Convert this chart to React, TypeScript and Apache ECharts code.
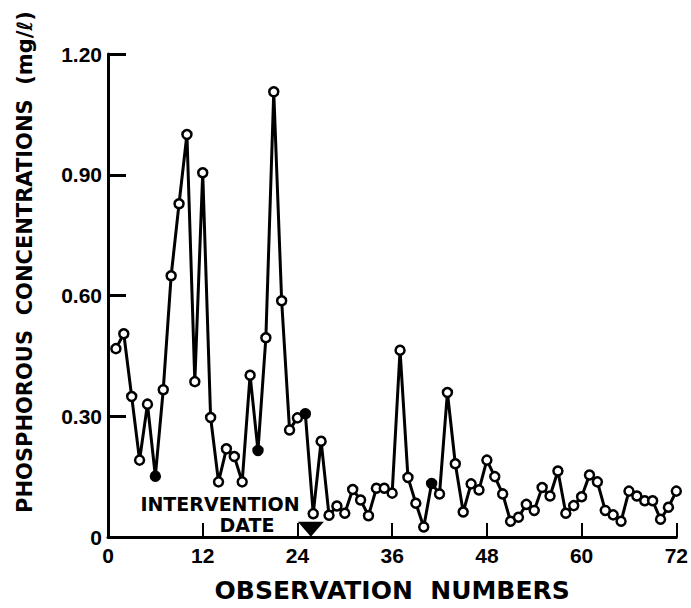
import React, { useEffect, useRef } from "react";
import * as echarts from "echarts";

const observations = [
  1, 2, 3, 4, 5, 6, 7, 8, 9, 10, 11, 12, 13, 14, 15, 16, 17, 18, 19, 20, 21, 22, 23, 24,
  25, 26, 27, 28, 29, 30, 31, 32, 33, 34, 35, 36, 37, 38, 39, 40, 41, 42, 43, 44, 45, 46, 47, 48,
  49, 50, 51, 52, 53, 54, 55, 56, 57, 58, 59, 60, 61, 62, 63, 64, 65, 66, 67, 68, 69, 70, 71, 72,
];
const phosphorus = [
  0.468, 0.505, 0.349, 0.191, 0.33, 0.151, 0.366, 0.649, 0.828, 1.0, 0.386, 0.905,
  0.297, 0.137, 0.219, 0.2, 0.137, 0.402, 0.215, 0.495, 1.106, 0.587, 0.266, 0.296,
  0.306, 0.058, 0.238, 0.054, 0.077, 0.059, 0.118, 0.092, 0.053, 0.121, 0.121, 0.109,
  0.464, 0.148, 0.084, 0.025, 0.133, 0.107, 0.359, 0.182, 0.062, 0.132, 0.117, 0.191,
  0.15, 0.107, 0.039, 0.049, 0.081, 0.066, 0.123, 0.102, 0.164, 0.059, 0.078, 0.1,
  0.154, 0.137, 0.066, 0.055, 0.039, 0.114, 0.102, 0.09, 0.09, 0.044, 0.074, 0.114,
];
const filledObservations = [6, 19, 25, 41];
const interventionMarker = [[25.7, 0.019]];
const xTicks = [0, 12, 24, 36, 48, 60, 72];
const yTicks = [0, 0.3, 0.6, 0.9, 1.2];

const FONT = "'Liberation Sans', Arial, sans-serif";
const WIDE = "'DejaVu Sans', sans-serif";

export default function App() {
  const ref = useRef<HTMLDivElement>(null);
  useEffect(() => {
    if (!ref.current) return;
    const chart = echarts.init(ref.current, null, { renderer: "svg" });
    const data = observations.map((o, i) => ({
      value: [o, phosphorus[i]],
      itemStyle: filledObservations.includes(o)
        ? { color: "#000", borderColor: "#000" }
        : undefined,
    }));
    chart.setOption({
      animation: false,
      backgroundColor: "#fff",
      grid: { left: 108, right: 8, top: 54, bottom: 67 },
      xAxis: {
        type: "value",
        min: xTicks[0],
        max: xTicks[xTicks.length - 1],
        interval: 12,
        name: "OBSERVATION  NUMBERS",
        nameLocation: "middle",
        nameGap: 41,
        nameTextStyle: { fontFamily: WIDE, fontSize: 25, fontWeight: "bold", color: "#000" },
        axisLine: { lineStyle: { color: "#000", width: 3 } },
        axisTick: { inside: true, length: 14, lineStyle: { color: "#000", width: 2 } },
        axisLabel: { fontFamily: FONT, fontSize: 21, fontWeight: "bold", color: "#000", margin: 8 },
        splitLine: { show: false },
      },
      yAxis: {
        type: "value",
        min: yTicks[0],
        max: yTicks[yTicks.length - 1],
        interval: 0.3,
        axisLine: { show: true, lineStyle: { color: "#000", width: 3 } },
        axisTick: { show: true, inside: true, length: 18, lineStyle: { color: "#000", width: 3 } },
        axisLabel: {
          fontFamily: FONT,
          fontSize: 21,
          fontWeight: "bold",
          color: "#000",
          margin: 6,
          formatter: (v: number) => (v === 0 ? "0" : v.toFixed(2)),
        },
        splitLine: { show: false },
      },
      graphic: [
        {
          type: "text",
          x: 25,
          y: 262,
          rotation: Math.PI / 2,
          style: {
            text: "PHOSPHOROUS  CONCENTRATIONS  (mg/ℓ)",
            fontFamily: WIDE,
            fontSize: 21,
            fontWeight: "bold",
            fill: "#000",
            textAlign: "center",
            textVerticalAlign: "middle",
          },
        },
        {
          type: "text",
          x: 220,
          y: 504,
          style: {
            text: "INTERVENTION",
            fontFamily: WIDE,
            fontSize: 19,
            fontWeight: "bold",
            fill: "#000",
            textAlign: "center",
            textVerticalAlign: "middle",
          },
        },
        {
          type: "text",
          x: 247,
          y: 525,
          style: {
            text: "DATE",
            fontFamily: WIDE,
            fontSize: 19,
            fontWeight: "bold",
            fill: "#000",
            textAlign: "center",
            textVerticalAlign: "middle",
          },
        },
      ],
      series: [
        {
          type: "line",
          data,
          symbol: "circle",
          symbolSize: 9,
          lineStyle: { color: "#000", width: 3 },
          itemStyle: { color: "#fff", borderColor: "#000", borderWidth: 2.5 },
          z: 3,
        },
        {
          type: "scatter",
          data: interventionMarker,
          symbol: "triangle",
          symbolRotate: 180,
          symbolSize: [26, 15],
          itemStyle: { color: "#000", opacity: 1 },
          z: 4,
        },
      ],
    });
    return () => chart.dispose();
  }, []);
  return <div ref={ref} style={{ width: 691, height: 608, position: "absolute", left: 0, top: 0 }} />;
}
